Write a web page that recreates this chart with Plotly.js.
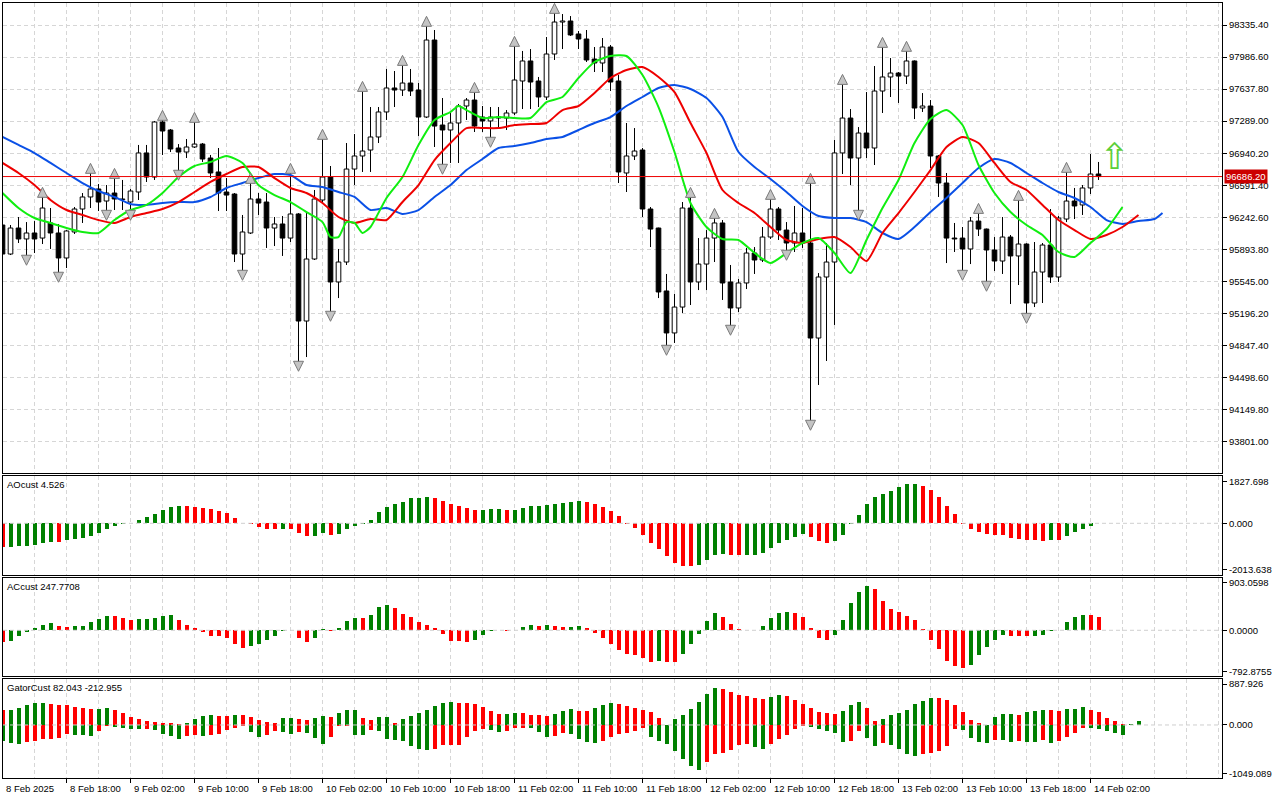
<!DOCTYPE html>
<html><head><meta charset="utf-8">
<script src="https://cdn.plot.ly/plotly-3.0.1.min.js"></script>
<style>html,body{margin:0;padding:0;background:#fff;}#chart{width:1280px;height:800px;}</style>
</head><body><div id="chart"></div>
<script>
// ---------- DATA ----------
const xLabels = ["8 Feb 2025","8 Feb 18:00","9 Feb 02:00","9 Feb 10:00","9 Feb 18:00","10 Feb 02:00","10 Feb 10:00","10 Feb 18:00","11 Feb 02:00","11 Feb 10:00","11 Feb 18:00","12 Feb 02:00","12 Feb 10:00","12 Feb 18:00","13 Feb 02:00","13 Feb 10:00","13 Feb 18:00","14 Feb 02:00"];
const xLabelIdx = [0,8,16,24,32,40,48,56,64,72,80,88,96,104,112,120,128,136];

const open = [96159,95843,96126,96007,96072,96017,96181,96072,95800,96083,96333,96464,96551,96420,96507,96436,96409,96518,96943,96681,97280,97193,96997,96953,97008,97040,96888,96736,96518,96496,95843,96072,96442,96409,96126,96170,96017,96279,95114,95789,96431,96681,95539,95756,96768,96910,96975,97117,97389,97650,97628,97704,97628,97334,98172,97247,97193,97269,97454,97519,97334,97291,97323,97323,97378,97726,97944,97726,97552,98020,98368,98379,98238,98183,97965,97922,98096,97726,96725,96910,96975,96333,96126,95441,94984,95266,96344,95539,95734,96017,96181,95539,95256,95528,95854,95778,96028,96333,96104,95963,96072,95963,94929,95593,95756,96943,97323,96888,97160,96997,97617,97770,97813,97780,97944,97432,97454,96910,96616,96017,96017,95898,96202,96115,95887,95767,96028,95822,95952,95310,95647,95941,95593,96224,96420,96377,96562,96714];
const high = [96170,96159,96246,96191,96202,96464,96344,96170,96104,96355,96507,96725,96605,96594,96670,96649,96551,97030,97030,97291,97302,97204,97040,97095,97280,97051,96921,96997,96670,96507,96268,96616,96507,96507,96246,96257,96725,96289,96289,96540,97095,96801,95898,97051,97149,97617,97443,97443,97857,97835,97900,97857,97704,98325,98281,97541,97378,97476,97541,97606,97454,97443,97443,97410,98107,98053,98074,97770,98205,98466,98455,98433,98270,98281,98096,98194,98118,97791,97269,97214,96997,96355,96130,95626,95408,96409,96463,96017,96104,96235,96213,95724,95571,95909,95919,96137,96442,96355,96191,96366,96344,96616,95636,95963,97084,97693,97421,97225,97606,97889,98096,97976,97824,98053,97950,97595,97519,96921,96725,96181,96137,96246,96289,96120,96028,96246,96050,96431,95960,95974,95963,96333,96257,96736,96562,96594,96932,96845];
const low = [95822,95832,95963,95811,95854,95952,95898,95626,95691,96061,96181,96344,96311,96300,96322,96322,96300,96431,96627,96649,96921,96953,96736,96888,96997,96845,96670,96311,96311,95756,95647,96061,96268,95909,95930,95822,95974,94657,94722,95778,96409,95201,95364,95724,96594,96736,96736,97051,97302,97443,97563,97563,97127,97323,97008,96801,96834,96834,97302,97171,97171,97095,97214,97193,97356,97421,97421,97443,97519,97955,98074,98216,98074,97933,97824,97824,97617,96616,96518,96866,96246,95919,95364,94831,94875,95201,95288,95451,95451,95756,95343,95049,95212,95462,95626,95756,96007,95996,95865,95865,95909,94015,94418,94679,95071,96714,96594,96300,96888,96812,97378,97552,97487,97693,97312,97389,96779,96464,95745,95865,95647,95734,96039,95528,95658,95626,95299,95506,95179,95266,95310,95528,95539,96191,96224,96268,96496,96649];
const close = [95843,96126,96007,96072,96007,96344,96072,95800,96094,96333,96464,96551,96409,96507,96442,96442,96529,96943,96681,97280,97182,96986,96953,97008,97040,96877,96725,96507,96485,95843,96083,96442,96398,96126,96170,96017,96279,95114,95789,96442,96681,95539,95756,96768,96910,96964,97117,97389,97650,97628,97704,97617,97334,98172,97236,97193,97269,97454,97519,97236,97291,97334,97334,97378,97737,97944,97715,97552,98020,98368,98379,98227,98183,97955,97922,98096,97715,96736,96910,96964,96333,96115,95430,94984,95266,96344,95539,95734,96017,96181,95528,95256,95528,95854,95778,96028,96333,96104,95963,96072,95963,94929,95593,95756,96943,97323,96888,97160,96997,97617,97770,97813,97780,97944,97432,97454,96910,96616,96017,96007,95898,96202,96115,95887,95767,96028,95822,95952,95310,95647,95941,95593,96235,96420,96366,96562,96714,96686.2];
const currentPrice = 96686.20;

const jawIdx = [0,2,4,6,8,10,12,14,16,18,20,22,24,26,28,30,32,34,36,38,40,42,44,46,48,50,52,54,56,58,60,62,64,66,68,70,72,74,76,78,80,82,84,86,88,90,92,94,96,98,100,102,104,106,108,110,112,114,116,118,120,122,124,126,128,130,132,134,136,138,140,142,144,145];
const jawVal = [97117,97030,96942,96834,96725,96616,96529,96464,96387,96377,96398,96409,96409,96464,96562,96616,96670,96714,96703,96594,96572,96518,96464,96322,96344,96279,96322,96464,96594,96757,96877,96997,97019,97051,97095,97117,97193,97269,97334,97454,97552,97650,97683,97639,97541,97334,96953,96790,96660,96518,96366,96257,96235,96235,96191,96072,96007,96137,96300,96453,96616,96779,96877,96834,96725,96616,96518,96453,96355,96213,96170,96202,96224,96289];
const teethIdx = [0,2,4,6,8,10,12,14,16,18,20,22,24,26,28,30,32,34,36,38,40,42,44,46,48,50,52,54,56,58,60,62,64,66,68,70,72,74,76,78,80,82,84,86,88,90,92,94,96,98,100,102,104,106,108,110,112,114,116,118,120,122,124,126,128,130,132,134,136,138,140,142];
const teethVal = [96834,96725,96594,96431,96322,96268,96213,96181,96246,96289,96333,96409,96518,96627,96714,96790,96790,96670,96562,96507,96398,96246,96181,96224,96213,96409,96594,96866,97051,97214,97214,97214,97247,97258,97269,97410,97454,97595,97759,97846,97878,97770,97606,97269,96942,96540,96398,96289,96137,95996,95963,96007,96028,95919,95767,96072,96289,96518,96757,97008,97117,97051,96834,96627,96540,96377,96213,96104,96007,96050,96137,96268];
const lipsIdx = [0,2,4,6,8,10,12,14,16,18,20,22,24,26,28,30,32,34,36,38,40,41,42,43,44,45,46,48,50,52,54,56,57,58,60,62,64,66,68,70,72,74,76,78,80,82,84,86,88,90,92,94,96,98,100,102,104,106,108,110,112,114,116,118,120,122,124,126,128,130,132,134,136,138,140];
const lipsVal = [96507,96344,96235,96181,96126,96083,96072,96213,96322,96377,96507,96681,96801,96845,96910,96834,96594,96485,96409,96300,96191,96028,96028,96191,96181,96072,96137,96453,96681,97030,97302,97389,97454,97410,97323,97334,97323,97323,97497,97552,97759,97933,97998,97998,97791,97443,96953,96398,96137,96007,95996,95854,95745,95854,95963,96017,95854,95636,95996,96344,96649,97051,97312,97410,97247,96812,96507,96300,96159,96050,95865,95811,95963,96115,96355];

const upFractalIdx = [5,11,14,20,24,31,36,40,45,50,53,59,64,69,86,89,96,101,105,110,113,122,127,133];
const downFractalIdx = [3,7,13,16,22,30,37,41,55,61,83,91,98,101,107,120,123,128];
const signalIdx = [139];
const signalPrice = [96862];

const aoVal = [-1020,-1010,-1000,-984,-941,-839,-796,-800,-738,-695,-651,-550,-405,-232,-101,-29,3,145,275,420,579,709,755,750,723,680,608,550,449,246,14,-43,-145,-232,-240,-232,-245,-405,-550,-545,-405,-506,-449,-232,-116,-29,145,492,709,839,926,1100,1105,1143,1100,969,839,752,666,579,585,622,625,579,585,666,752,755,796,839,883,926,969,926,839,709,535,318,-15,-188,-506,-854,-1114,-1418,-1722,-1852,-1860,-1809,-1592,-1360,-1331,-1375,-1380,-1370,-1365,-1273,-1056,-839,-709,-579,-449,-579,-752,-839,-752,-492,-43,362,839,1143,1273,1404,1577,1707,1712,1621,1447,1143,752,405,-29,-232,-362,-449,-492,-497,-622,-666,-709,-712,-752,-709,-712,-535,-362,-232,-101,4.526];
const acVal = [-216,-203,-108,-25,44,102,140,83,64,83,86,159,216,273,270,235,197,216,220,235,273,292,197,102,44,-38,-108,-110,-146,-260,-337,-298,-260,-184,-108,-13,3,-146,-222,-146,25,-13,38,178,235,230,292,445,483,425,311,254,159,102,44,-76,-203,-205,-222,-184,-89,-19,-3,-6,3,64,102,83,105,83,64,66,86,44,-44,-146,-260,-375,-451,-470,-527,-603,-584,-605,-610,-451,-260,-64,178,330,254,121,19,5,8,83,235,330,349,330,254,44,-146,-184,-89,197,521,730,845,787,559,406,349,273,197,19,-184,-356,-584,-679,-718,-660,-470,-318,-184,-89,-108,-110,-112,-105,-89,-6,3,159,254,292,288,247.7708];
const gatorUp = [319,326,370,428,471,475,450,428,425,399,370,348,350,370,319,254,174,131,87,65,43,42,20,43,131,196,218,196,194,218,216,174,109,65,43,152,155,131,109,152,196,174,261,326,330,152,109,174,176,36,131,196,261,326,413,479,500,479,475,457,392,305,239,241,261,259,218,216,196,239,305,348,305,303,370,435,479,457,413,370,330,283,152,10,140,218,348,500,674,805,783,718,653,631,587,566,609,653,631,544,457,370,283,261,239,305,435,500,370,87,131,218,261,326,457,522,587,580,537,442,290,116,43,10,181,232,235,225,275,297,334,319,305,348,350,392,326,283,152,87,15,29,82.043];
const gatorDown = [-348,-384,-406,-363,-348,-312,-297,-276,-189,-218,-220,-239,-131,-22,-36,-58,-80,-82,-78,-109,-189,-232,-305,-239,-218,-232,-218,-196,-109,-58,-22,-145,-254,-218,-131,-145,-189,-145,-167,-276,-406,-254,-22,-20,-210,-212,-109,-131,-305,-326,-348,-457,-522,-544,-522,-435,-433,-430,-261,-131,-87,-109,-152,-131,-58,-56,-60,-152,-261,-239,-174,-196,-305,-370,-392,-348,-261,-196,-174,-131,-58,-261,-348,-413,-566,-740,-892,-979,-805,-631,-609,-544,-435,-406,-471,-515,-406,-305,-210,-80,-22,-36,-80,-120,-167,-363,-348,-131,-276,-450,-384,-428,-529,-624,-667,-624,-620,-566,-450,-87,-109,-276,-363,-384,-326,-330,-363,-348,-365,-368,-326,-384,-348,-254,-167,-58,-65,-80,-120,-167,-212.955];

const priceTicks = [98335.40,97986.60,97637.80,97289.00,96940.20,96591.40,96242.60,95893.80,95545.00,95196.20,94847.40,94498.60,94149.80,93801.00];
const aoTicks = [1827.698,0,-2013.638];      const aoTickText = ["1827.698","0.000","-2013.638"];
const acTicks = [903.0598,0,-792.8755];      const acTickText = ["903.0598","0.0000","-792.8755"];
const gatorTicks = [887.926,0,-1049.089];    const gatorTickText = ["887.926","0.000","-1049.089"];
const aoTitle = "AOcust 4.526";
const acTitle = "ACcust 247.7708";
const gatorTitle = "GatorCust 82.043 -212.955";

// ---------- STYLE ----------
const FONT = "Liberation Sans, Arial, sans-serif";
const FS = 9.5;
const GREEN = "#008000", RED = "#ff0000";
const GRID = "#d6d6d6", DASH = "4px,3px";
const XR = [0.0625, 152.4375];
const idx = n => Array.from({length:n}, (_, i) => i);

// candles
const N = open.length;
const bodyBase = [], bodyLen = [], bodyCol = [];
const wx = [], wy = [];
for (let i = 0; i < N; i++) {
  const hi = Math.max(open[i], close[i]), lo = Math.min(open[i], close[i]);
  const len = Math.max(hi - lo, 4);
  bodyBase.push(lo); bodyLen.push(len);
  bodyCol.push(close[i] >= open[i] ? "#ffffff" : "#000000");
  wx.push(i, i, null, i, i, null);
  wy.push(high[i], lo + len, null, lo, low[i], null);
}

const risingColors = (v, first) => v.map((x, i) => i === 0 ? first : (x > v[i - 1] ? GREEN : RED));
const growingColors = (v, first) => v.map((x, i) => i === 0 ? first : (Math.abs(x) > Math.abs(v[i - 1]) ? GREEN : RED));

const traces = [
  {type:"scatter", mode:"lines", x:wx, y:wy, line:{color:"#000", width:1}, xaxis:"x", yaxis:"y", hoverinfo:"skip"},
  {type:"bar", x:idx(N), y:bodyLen, base:bodyBase, width:0.58, marker:{color:bodyCol, line:{color:"#000", width:1}}, xaxis:"x", yaxis:"y", hoverinfo:"skip"},
  {type:"scatter", mode:"lines", x:jawIdx, y:jawVal, line:{color:"#0a50e6", width:2, shape:"spline", smoothing:0.6}, xaxis:"x", yaxis:"y"},
  {type:"scatter", mode:"lines", x:teethIdx, y:teethVal, line:{color:"#ee0000", width:2, shape:"spline", smoothing:0.6}, xaxis:"x", yaxis:"y"},
  {type:"scatter", mode:"lines", x:lipsIdx, y:lipsVal, line:{color:"#10ee10", width:2, shape:"spline", smoothing:0.6}, xaxis:"x", yaxis:"y"},
  {type:"scatter", mode:"markers", x:upFractalIdx, y:upFractalIdx.map(i => high[i] + 105),
   marker:{symbol:"arrow-up", size:10, color:"#c4c4c4", line:{color:"#7a7a7a", width:1}}, xaxis:"x", yaxis:"y"},
  {type:"scatter", mode:"markers", x:downFractalIdx, y:downFractalIdx.map(i => low[i] - 90),
   marker:{symbol:"arrow-down", size:10, color:"#c4c4c4", line:{color:"#7a7a7a", width:1}}, xaxis:"x", yaxis:"y"},
  {type:"scatter", mode:"text", x:signalIdx, y:signalPrice, text:signalIdx.map(() => "\u21e7"),
   textfont:{family:"DejaVu Sans", size:36, color:"#5ccf38"}, xaxis:"x", yaxis:"y"},
  {type:"bar", x:idx(aoVal.length), y:aoVal, width:0.5, marker:{color:risingColors(aoVal, RED)}, xaxis:"x2", yaxis:"y2"},
  {type:"bar", x:idx(acVal.length), y:acVal, width:0.5, marker:{color:risingColors(acVal, RED)}, xaxis:"x3", yaxis:"y3"},
  {type:"bar", x:idx(gatorUp.length), y:gatorUp, width:0.5, marker:{color:risingColors(gatorUp, RED)}, xaxis:"x4", yaxis:"y4"},
  {type:"bar", x:idx(gatorDown.length), y:gatorDown, width:0.5, marker:{color:growingColors(gatorDown, GREEN)}, xaxis:"x4", yaxis:"y4"}
];

const xax = (anchor, extra) => Object.assign({
  anchor, range:XR, tickmode:"array", tickvals:xLabelIdx, showticklabels:false, ticks:"",
  showgrid:true, gridcolor:GRID, griddash:DASH, gridwidth:1,
  minor:{tick0:0, dtick:4, showgrid:true, gridcolor:GRID, griddash:DASH, gridwidth:1, ticks:""},
  showline:true, mirror:true, linecolor:"#000", linewidth:1, zeroline:false, fixedrange:true
}, extra || {});
const yax = (domain, range, tickvals, ticktext, grid) => ({
  domain, range, tickvals, ticktext, side:"right", ticks:"outside", ticklen:4, tickcolor:"#000",
  tickfont:{family:FONT, size:FS, color:"#000"},
  showgrid:grid, gridcolor:GRID, griddash:DASH, gridwidth:1,
  showline:true, mirror:true, linecolor:"#000", linewidth:1, zeroline:false, fixedrange:true
});

const dMain = [0.39355, 1], dAO = [0.26194, 0.38968], dAC = [0.13161, 0.25806], dG = [0, 0.12774];

const annotations = [];
xLabels.forEach((t, k) => annotations.push({
  text:t, x:Math.max(xLabelIdx[k], XR[0]), xref:"x4", y:0, yref:"paper", xanchor:"left", yanchor:"top",
  yshift:-3, xshift:1, showarrow:false, font:{family:FONT, size:FS, color:"#000"}
}));
[[aoTitle, dAO[1]], [acTitle, dAC[1]], [gatorTitle, dG[1]]].forEach(([t, y]) => annotations.push({
  text:t, x:0, xref:"paper", y:y, yref:"paper", xanchor:"left", yanchor:"top", xshift:2, yshift:-1,
  showarrow:false, font:{family:FONT, size:FS, color:"#000"}
}));
annotations.push({
  text:currentPrice.toFixed(2), x:1, xref:"paper", y:currentPrice, yref:"y", xanchor:"left", yanchor:"middle",
  xshift:2, showarrow:false, bgcolor:"#cc0000", borderpad:1, font:{family:FONT, size:FS, color:"#fff"}
});

const zeroLine = yref => ({type:"line", xref:"paper", x0:0, x1:1, yref, y0:0, y1:0, line:{color:"#cfcfcf", width:1, dash:DASH}});
const shapes = [
  {type:"line", xref:"paper", x0:0, x1:1, yref:"y", y0:currentPrice, y1:currentPrice, line:{color:"#ee0000", width:1}},
  zeroLine("y2"), zeroLine("y3"), zeroLine("y4")
];

const layout = {
  width:1280, height:800, margin:{l:3, r:58, t:3, b:22},
  paper_bgcolor:"#fff", plot_bgcolor:"#fff", showlegend:false, barmode:"overlay", bargap:0,
  font:{family:FONT, size:FS, color:"#000"},
  xaxis: xax("y"),
  xaxis2: xax("y2", {matches:"x"}),
  xaxis3: xax("y3", {matches:"x"}),
  xaxis4: xax("y4", {matches:"x", ticks:"outside", ticklen:4, tickcolor:"#000"}),
  yaxis: yax(dMain, [93460, 98575], priceTicks, priceTicks.map(v => v.toFixed(2)), true),
  yaxis2: yax(dAO, [-2244, 2053], aoTicks, aoTickText, false),
  yaxis3: yax(dAC, [-871, 996], acTicks, acTickText, false),
  yaxis4: yax(dG, [-1153, 1000], gatorTicks, gatorTickText, false),
  annotations, shapes, hovermode:false
};

Plotly.newPlot("chart", traces, layout, {displayModeBar:false, staticPlot:true});
</script></body></html>
